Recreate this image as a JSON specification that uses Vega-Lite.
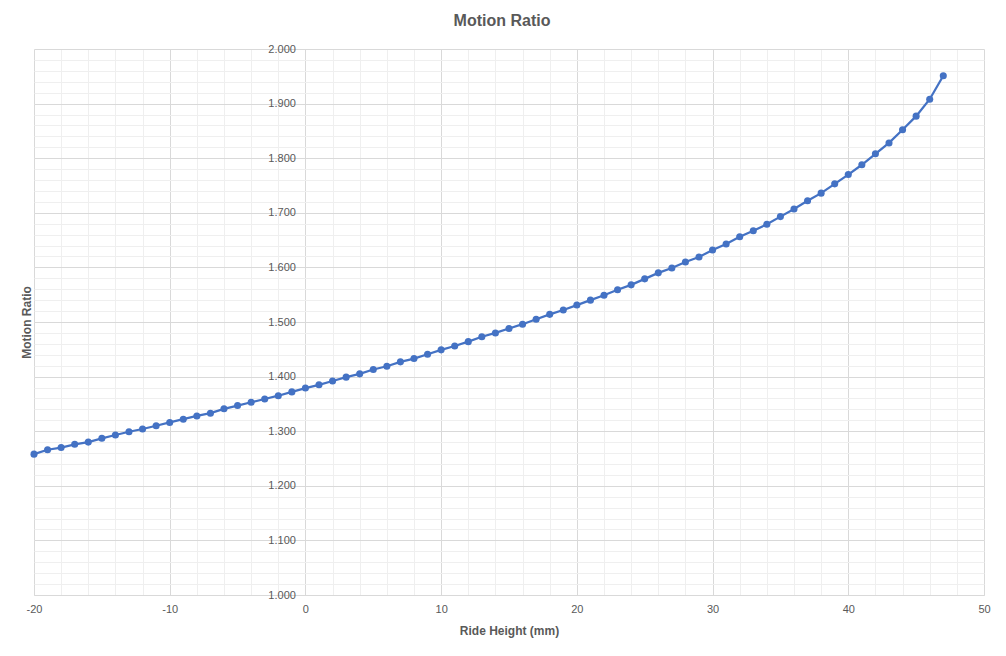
{
  "$schema": "https://vega.github.io/schema/vega-lite/v6.json",
  "width": 950,
  "height": 546,
  "autosize": {"type": "none"},
  "padding": {"left": 34, "top": 49, "right": 22, "bottom": 61},
  "background": "white",
  "title": {
    "text": "Motion Ratio",
    "fontSize": 16,
    "fontWeight": "bold",
    "color": "#595959",
    "font": "Liberation Sans",
    "anchor": "middle",
    "frame": "group",
    "dx": -7,
    "offset": 14
  },
  "config": {
    "view": {"stroke": null},
    "axis": {"labelFont": "Liberation Sans", "titleFont": "Liberation Sans", "labelFlush": false}
  },
  "data": {
    "values": [
      {"h": -20, "mr": 1.258}, {"h": -19, "mr": 1.266}, {"h": -18, "mr": 1.270}, {"h": -17, "mr": 1.276},
      {"h": -16, "mr": 1.280}, {"h": -15, "mr": 1.287}, {"h": -14, "mr": 1.293}, {"h": -13, "mr": 1.299},
      {"h": -12, "mr": 1.304}, {"h": -11, "mr": 1.310}, {"h": -10, "mr": 1.316}, {"h": -9, "mr": 1.322},
      {"h": -8, "mr": 1.328}, {"h": -7, "mr": 1.333}, {"h": -6, "mr": 1.341}, {"h": -5, "mr": 1.347},
      {"h": -4, "mr": 1.353}, {"h": -3, "mr": 1.359}, {"h": -2, "mr": 1.365}, {"h": -1, "mr": 1.372},
      {"h": 0, "mr": 1.379}, {"h": 1, "mr": 1.385}, {"h": 2, "mr": 1.392}, {"h": 3, "mr": 1.399},
      {"h": 4, "mr": 1.405}, {"h": 5, "mr": 1.413}, {"h": 6, "mr": 1.419}, {"h": 7, "mr": 1.427},
      {"h": 8, "mr": 1.433}, {"h": 9, "mr": 1.441}, {"h": 10, "mr": 1.449}, {"h": 11, "mr": 1.456},
      {"h": 12, "mr": 1.464}, {"h": 13, "mr": 1.473}, {"h": 14, "mr": 1.480}, {"h": 15, "mr": 1.488},
      {"h": 16, "mr": 1.496}, {"h": 17, "mr": 1.505}, {"h": 18, "mr": 1.514}, {"h": 19, "mr": 1.522},
      {"h": 20, "mr": 1.531}, {"h": 21, "mr": 1.540}, {"h": 22, "mr": 1.549}, {"h": 23, "mr": 1.559},
      {"h": 24, "mr": 1.568}, {"h": 25, "mr": 1.579}, {"h": 26, "mr": 1.590}, {"h": 27, "mr": 1.599},
      {"h": 28, "mr": 1.610}, {"h": 29, "mr": 1.619}, {"h": 30, "mr": 1.632}, {"h": 31, "mr": 1.643},
      {"h": 32, "mr": 1.656}, {"h": 33, "mr": 1.667}, {"h": 34, "mr": 1.679}, {"h": 35, "mr": 1.693},
      {"h": 36, "mr": 1.707}, {"h": 37, "mr": 1.722}, {"h": 38, "mr": 1.736}, {"h": 39, "mr": 1.753},
      {"h": 40, "mr": 1.770}, {"h": 41, "mr": 1.788}, {"h": 42, "mr": 1.808}, {"h": 43, "mr": 1.828},
      {"h": 44, "mr": 1.852}, {"h": 45, "mr": 1.877}, {"h": 46, "mr": 1.908}, {"h": 47, "mr": 1.951}
    ]
  },
  "resolve": {"axis": {"x": "independent", "y": "independent"}},
  "layer": [
    {
      "mark": {"type": "line", "color": "#4472C4", "strokeWidth": 2.25},
      "encoding": {
        "x": {
          "field": "h", "type": "quantitative",
          "scale": {"domain": [-20, 50], "nice": false, "zero": false},
          "axis": {
            "orient": "bottom",
            "values": [-20,-18,-16,-14,-12,-10,-8,-6,-4,-2,0,2,4,6,8,10,12,14,16,18,20,22,24,26,28,30,32,34,36,38,40,42,44,46,48,50],
            "grid": true, "gridColor": "#efefef", "gridWidth": 1,
            "labels": false, "ticks": false, "domain": false, "title": null
          }
        },
        "y": {
          "field": "mr", "type": "quantitative",
          "scale": {"domain": [1, 2], "nice": false, "zero": false},
          "axis": {
            "orient": "left",
            "values": [1,1.02,1.04,1.06,1.08,1.1,1.12,1.14,1.16,1.18,1.2,1.22,1.24,1.26,1.28,1.3,1.32,1.34,1.36,1.38,1.4,1.42,1.44,1.46,1.48,1.5,1.52,1.54,1.56,1.58,1.6,1.62,1.64,1.66,1.68,1.7,1.72,1.74,1.76,1.78,1.8,1.82,1.84,1.86,1.88,1.9,1.92,1.94,1.96,1.98,2],
            "grid": true, "gridColor": "#efefef", "gridWidth": 1,
            "labels": false, "ticks": false, "domain": false, "title": null
          }
        }
      }
    },
    {
      "mark": {"type": "circle", "color": "#4472C4", "size": 50, "opacity": 1},
      "encoding": {
        "x": {
          "field": "h", "type": "quantitative",
          "axis": {
            "orient": "bottom",
            "values": [-20, -10, 0, 10, 20, 30, 40, 50],
            "labelExpr": "'' + datum.value",
            "grid": true, "gridColor": "#d9d9d9", "gridWidth": 1,
            "ticks": false, "domain": true, "domainColor": "#d9d9d9",
            "labelColor": "#595959", "labelFontSize": 11, "labelPadding": 8,
            "title": "Ride Height (mm)", "titleColor": "#595959", "titleFontSize": 12,
            "titleFontWeight": "bold", "titlePadding": 11
          }
        },
        "y": {
          "field": "mr", "type": "quantitative",
          "axis": {
            "orient": "left",
            "offset": -271.4,
            "values": [1, 1.1, 1.2, 1.3, 1.4, 1.5, 1.6, 1.7, 1.8, 1.9, 2],
            "format": ".3f",
            "grid": true, "gridColor": "#d9d9d9", "gridWidth": 1,
            "ticks": false, "domain": false,
            "labelColor": "#595959", "labelFontSize": 11, "labelPadding": 10,
            "title": "Motion Ratio", "titleColor": "#595959", "titleFontSize": 12,
            "titleFontWeight": "bold", "titleX": -279, "titleBaseline": "middle"
          }
        }
      }
    }
  ]
}
